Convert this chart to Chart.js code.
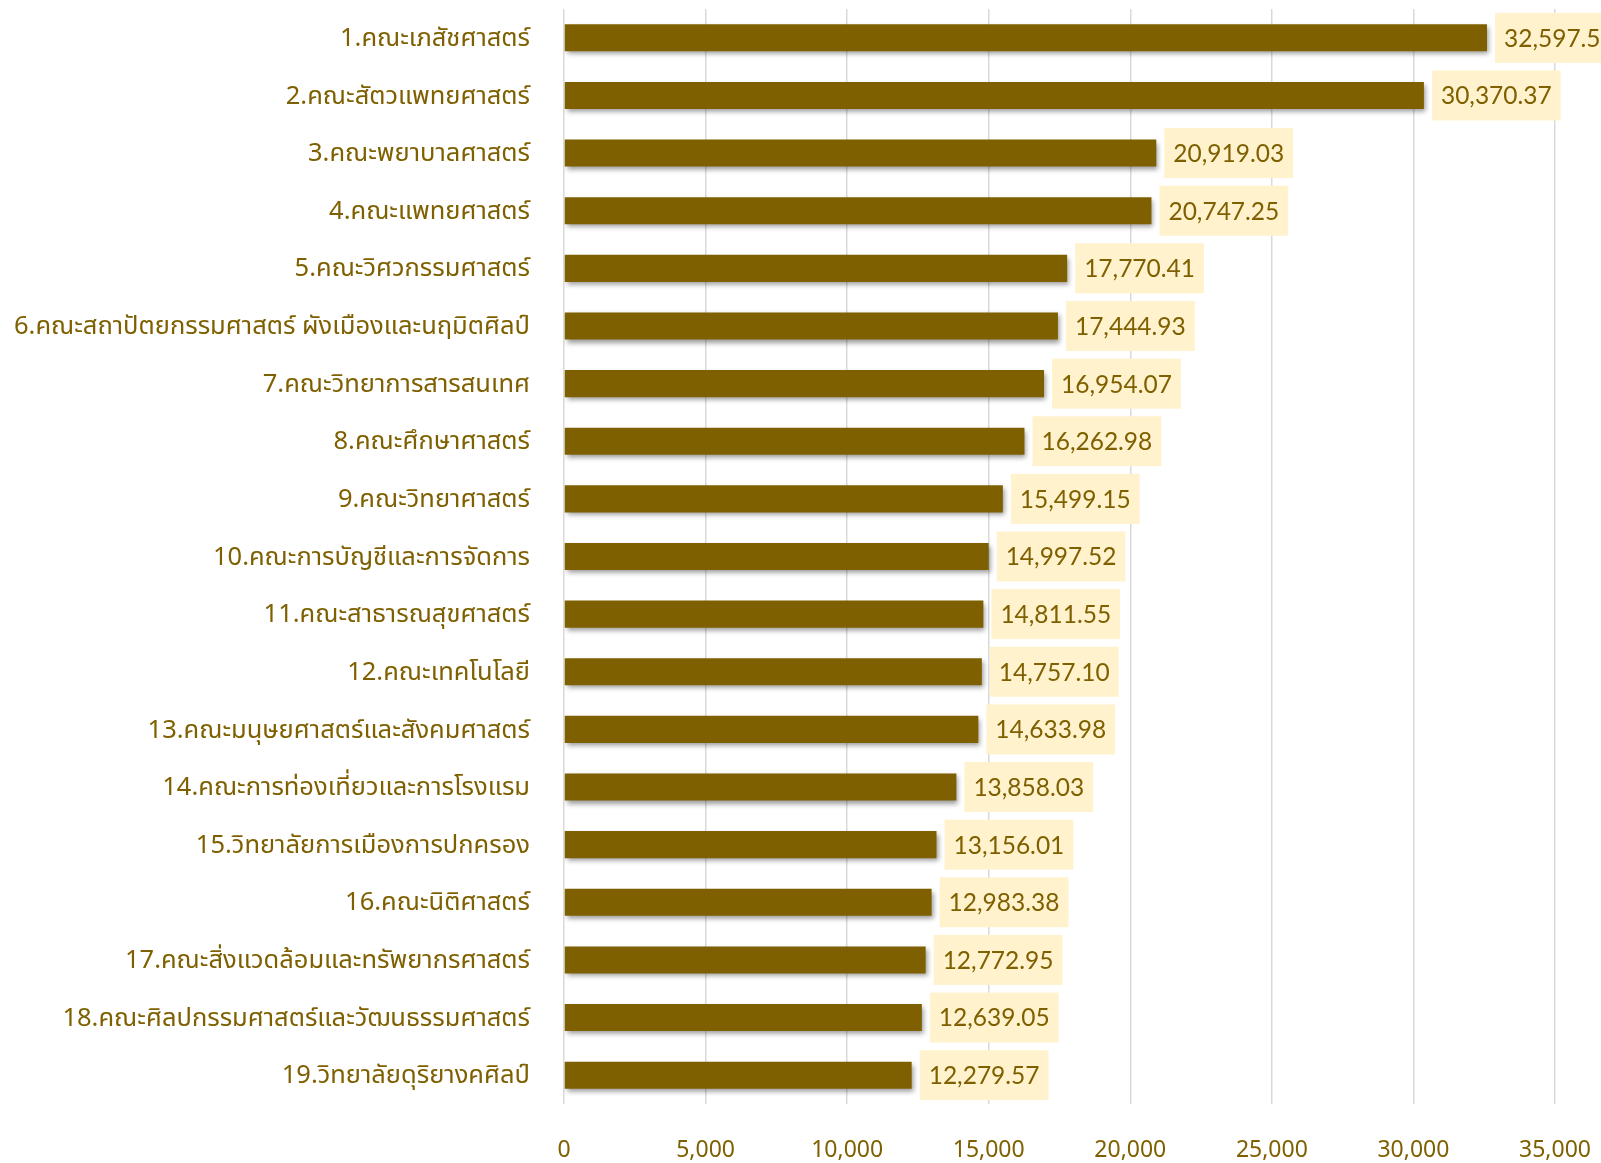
<!DOCTYPE html>
<html>
<head>
<meta charset="utf-8">
<script src="https://cdn.jsdelivr.net/npm/chart.js@4.4.0/dist/chart.umd.js"></script>
<style>
  body { margin: 0; background: #FFFFFF; }
  .chart-container { position: relative; width: 1601px; height: 1163px; }
</style>
</head>
<body>
<div class="chart-container">
  <canvas id="chart"></canvas>
</div>
<script>
// faculties, top to bottom
const faculties = [
  '1.คณะเภสัชศาสตร์',
  '2.คณะสัตวแพทยศาสตร์',
  '3.คณะพยาบาลศาสตร์',
  '4.คณะแพทยศาสตร์',
  '5.คณะวิศวกรรมศาสตร์',
  '6.คณะสถาปัตยกรรมศาสตร์ ผังเมืองและนฤมิตศิลป์',
  '7.คณะวิทยาการสารสนเทศ',
  '8.คณะศึกษาศาสตร์',
  '9.คณะวิทยาศาสตร์',
  '10.คณะการบัญชีและการจัดการ',
  '11.คณะสาธารณสุขศาสตร์',
  '12.คณะเทคโนโลยี',
  '13.คณะมนุษยศาสตร์และสังคมศาสตร์',
  '14.คณะการท่องเที่ยวและการโรงแรม',
  '15.วิทยาลัยการเมืองการปกครอง',
  '16.คณะนิติศาสตร์',
  '17.คณะสิ่งแวดล้อมและทรัพยากรศาสตร์',
  '18.คณะศิลปกรรมศาสตร์และวัฒนธรรมศาสตร์',
  '19.วิทยาลัยดุริยางคศิลป์',
];

const values = [
  32597.50, 30370.37, 20919.03, 20747.25, 17770.41, 17444.93, 16954.07,
  16262.98, 15499.15, 14997.52, 14811.55, 14757.10, 14633.98, 13858.03,
  13156.01, 12983.38, 12772.95, 12639.05, 12279.57,
];

const xMin = 0;
const xMax = 35000;
const xStep = 5000;

const BROWN = '#7F6000';
const THAI_FONT = "'Noto Sans Thai', 'Leelawadee UI', Tahoma, 'DejaVu Sans', sans-serif";
const NUM_FONT = "Lato, 'Noto Sans', sans-serif";

const fmt = v => v.toLocaleString('en-US', {minimumFractionDigits: 2, maximumFractionDigits: 2});

// drop shadow under bars
const barShadow = {
  id: 'barShadow',
  beforeDatasetDraw(chart) {
    const c = chart.ctx;
    c.save();
    c.shadowColor = 'rgba(0, 0, 0, 0.4)';
    c.shadowBlur = 5;
    c.shadowOffsetX = 2;
    c.shadowOffsetY = 3;
  },
  afterDatasetDraw(chart) {
    chart.ctx.restore();
  },
};

// value labels in pale boxes
const valueBoxes = {
  id: 'valueBoxes',
  afterDatasetsDraw(chart) {
    const c = chart.ctx;
    const meta = chart.getDatasetMeta(0);
    c.save();
    c.font = '24.5px ' + NUM_FONT;
    c.textBaseline = 'middle';
    c.textAlign = 'left';
    meta.data.forEach((bar, i) => {
      const text = fmt(values[i]);
      const w = c.measureText(text).width + 18;
      const h = 50;
      const x = bar.x + 8;
      const y = bar.y - h / 2;
      c.fillStyle = '#FFF2CC';
      c.fillRect(x, y, w, h);
      c.fillStyle = BROWN;
      c.fillText(text, x + 9, bar.y + 1);
    });
    c.restore();
  },
};

// keep the plot area where the reference has it
const noPad = scale => {
  scale.paddingTop = 0;
  scale.paddingBottom = 0;
  scale.paddingLeft = 0;
  scale.paddingRight = 0;
};

const ctx = document.getElementById('chart').getContext('2d');

new Chart(ctx, {
  type: 'bar',
  data: {
    labels: faculties,
    datasets: [{
      data: values,
      backgroundColor: BROWN,
      borderWidth: 0,
      categoryPercentage: 1,
      barPercentage: 0.47,
    }],
  },
  options: {
    indexAxis: 'y',
    responsive: true,
    maintainAspectRatio: false,
    animation: false,
    layout: {padding: {top: 9, right: 46, bottom: 0, left: 0}},
    plugins: {
      legend: {display: false},
      tooltip: {enabled: false},
    },
    scales: {
      x: {
        min: xMin,
        max: xMax,
        grid: {color: '#D9D9D9', lineWidth: 1.5, drawTicks: false},
        border: {display: false},
        ticks: {
          stepSize: xStep,
          color: BROWN,
          padding: 35,
          maxRotation: 0,
          font: {family: THAI_FONT, size: 23},
          callback: v => v.toLocaleString('en-US'),
        },
        afterFit: scale => { scale.height = 59; noPad(scale); },
      },
      y: {
        grid: {display: false},
        border: {display: false},
        ticks: {
          color: BROWN,
          padding: 26,
          labelOffset: 3,
          font: {family: THAI_FONT, size: 25.5},
        },
        afterFit: scale => { scale.width = 564; noPad(scale); },
      },
    },
  },
  plugins: [barShadow, valueBoxes],
});
</script>
</body>
</html>
